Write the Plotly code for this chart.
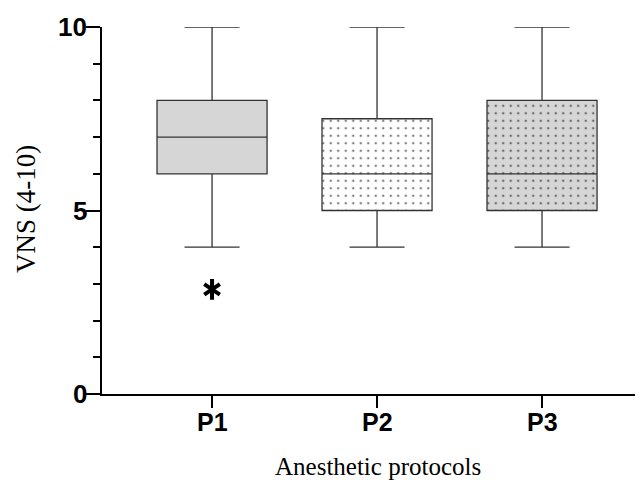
import plotly.graph_objects as go

categories = ["P1", "P2", "P3"]
positions = [0, 1, 2]
q1 = [6, 5, 5]
median = [7, 6, 6]
q3 = [8, 7.5, 8]
lower = [4, 4, 4]
upper = [10, 10, 10]
outlier_cat = [0]
outlier_val = [2.85]
y_ticks = [0, 5, 10]
y_ticklabels = ["0", "5", "10"]
x_title = "Anesthetic protocols"
y_title = "VNS (4-10)"

fills = ["#d6d6d6", "#ffffff", "#d6d6d6"]
patterned = [False, True, True]
BW = 0.667

fig = go.Figure()

# patterned fills (drawn behind the boxes)
for i in range(3):
    if patterned[i]:
        fig.add_trace(go.Bar(
            x=[positions[i]], base=[q1[i]], y=[q3[i] - q1[i]], width=BW,
            marker=dict(color=fills[i], line=dict(width=0),
                        pattern=dict(shape=".", fgcolor="#000000", bgcolor=fills[i],
                                     size=7.5, solidity=0.09, fillmode="overlay")),
            showlegend=False, hoverinfo="skip"))

for i in range(3):
    fig.add_trace(go.Box(
        x=[positions[i]], q1=[q1[i]], median=[median[i]], q3=[q3[i]],
        lowerfence=[lower[i]], upperfence=[upper[i]],
        width=BW, whiskerwidth=0.5,
        fillcolor=("rgba(0,0,0,0)" if patterned[i] else fills[i]),
        line=dict(color="#333333", width=1.3),
        showlegend=False, boxpoints=False))

# six-armed asterisk = y-up + y-down
for sym in ["y-up-open", "y-down-open"]:
    fig.add_trace(go.Scatter(
        x=outlier_cat, y=outlier_val, mode="markers",
        marker=dict(symbol=sym, size=13, color="black",
                    line=dict(color="black", width=4)),
        showlegend=False))

bold_sans = dict(family="Liberation Sans", size=25, color="black", weight="bold")
serif = dict(family="Liberation Serif", size=25, color="black")

annotations = []
# y tick labels placed right at the end of the tick marks
for v, t in zip(y_ticks, y_ticklabels):
    annotations.append(dict(text=t, xref="paper", yref="y", x=0, y=v,
                            xanchor="right", yanchor="middle", xshift=-13,
                            showarrow=False, font=dict(bold_sans, size=26)))
# x tick labels
for p, c in zip(positions, categories):
    annotations.append(dict(text=c, xref="x", yref="paper", x=p, y=0,
                            xanchor="center", yanchor="middle", yshift=-28,
                            showarrow=False, font=bold_sans))
# axis titles
annotations.append(dict(text=x_title, xref="paper", yref="paper", x=0.511, y=0,
                        yshift=-72, xanchor="center", yanchor="middle",
                        showarrow=False, font=serif))
annotations.append(dict(text=y_title, xref="paper", yref="paper", x=0, y=0.504,
                        xshift=-76, xanchor="center", yanchor="middle", textangle=-90,
                        showarrow=False, font=dict(serif, size=27)))

# page body adds an 8px offset; size the figure to compensate
fig.update_layout(
    width=635, height=472,
    margin=dict(l=94, r=0, t=19, b=86),
    plot_bgcolor="white", paper_bgcolor="white",
    barmode="overlay", boxmode="overlay",
    xaxis=dict(
        range=[-0.667, 2.612], tickvals=positions, showticklabels=False,
        automargin=False,
        showgrid=False, zeroline=False, showline=True, linecolor="black", linewidth=2,
        ticks="outside", ticklen=12, tickwidth=2, tickcolor="black"),
    yaxis=dict(
        range=[0, 10], tickvals=y_ticks, showticklabels=False, automargin=False,
        showgrid=False, zeroline=False, showline=True, linecolor="black", linewidth=2,
        ticks="outside", ticklen=14, tickwidth=2, tickcolor="black",
        minor=dict(dtick=1, ticklen=7, tickwidth=2, tickcolor="black", ticks="outside")),
    annotations=annotations,
)

fig.write_html("out.html")
